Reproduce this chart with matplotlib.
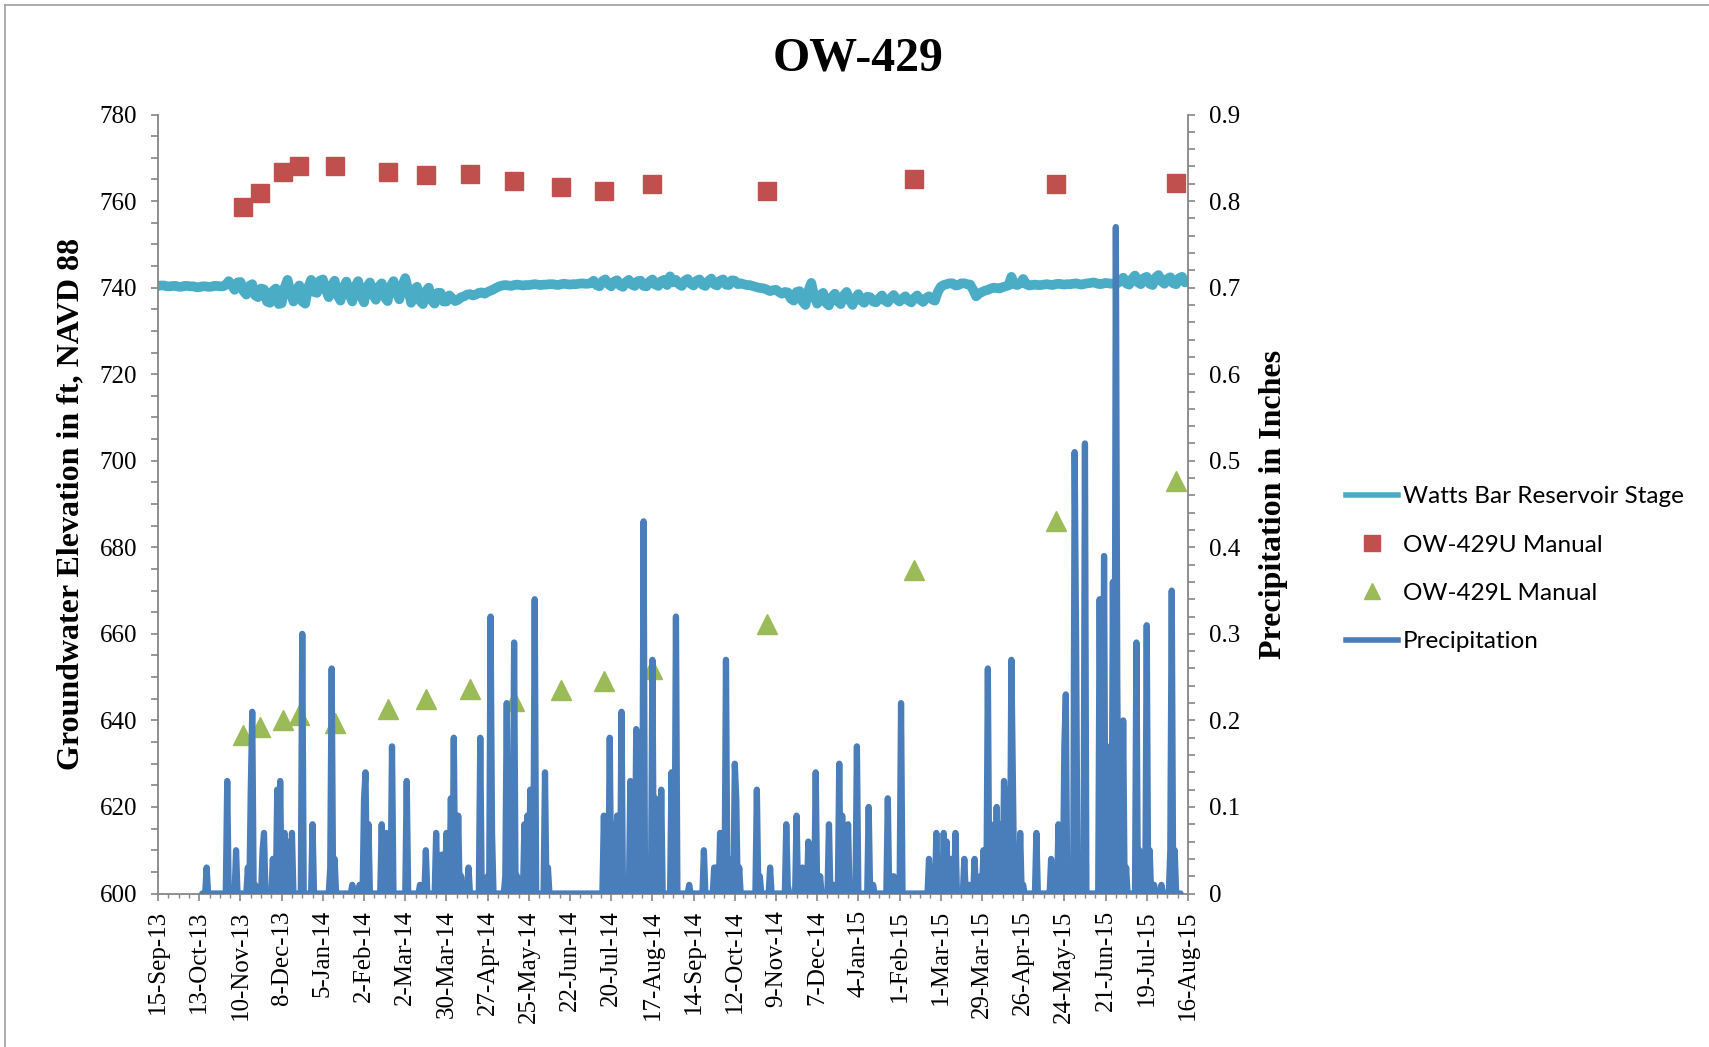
import numpy as np
import matplotlib
matplotlib.use("Agg")
import matplotlib.pyplot as plt
import matplotlib.dates as mdates
from matplotlib.ticker import MultipleLocator, FixedLocator
from matplotlib.lines import Line2D

# ---------------- data ----------------
start = np.datetime64("2013-09-15")
end = np.datetime64("2015-08-16")

# Watts Bar Reservoir Stage (ft), sampled every 2 days from 15-Sep-2013
stage_step_days = 2
stage_ft = [
    740.4, 740.5, 740.5, 740.3, 740.3, 740.4, 740.4, 740.2, 740.2, 740.4, 740.4, 740.3,
    740.3, 740.1, 740.1, 740.3, 740.3, 740.2, 740.2, 740.4, 740.4, 740.3, 740.3, 740.6,
    741.5, 740.6, 739.5, 741.2, 741.3, 739.2, 738.4, 740.4, 740.8, 738.2, 737.8, 739.8,
    739.6, 736.8, 736.5, 739.2, 739.8, 736.2, 736.4, 740.0, 741.8, 739.0,
    736.8, 739.5, 740.5, 736.8, 736.3, 740.0,
    741.8, 739.0, 738.8, 741.6, 741.9, 739.5, 737.8, 740.5, 741.6, 738.2,
    737.0, 740.0, 741.4, 738.5, 736.8, 740.3, 741.5, 738.0, 736.6, 740.2,
    741.2, 738.5, 737.2, 740.2, 741.0, 737.8, 736.9, 740.3, 741.5, 739.0, 737.3, 740.5,
    742.2, 739.5, 736.5, 739.5, 740.2, 737.0, 736.2, 739.2, 740.0, 737.0, 736.3, 738.8,
    738.8, 736.8, 736.8, 738.2, 737.5, 736.9, 737.2, 737.8,
    738.0, 738.4, 738.5, 738.2, 738.4, 738.8, 738.9, 738.6, 739.0, 739.3, 739.6, 740.0,
    740.3, 740.5, 740.6, 740.5, 740.4, 740.6, 740.7, 740.6, 740.5, 740.6, 740.6, 740.7,
    740.8, 740.7, 740.6, 740.7, 740.7, 740.8, 740.8, 740.7, 740.6, 740.8, 740.9, 740.8,
    740.7, 740.8, 740.8, 740.9, 741.0, 740.9, 740.9, 741.0,
    741.6, 740.6, 740.3, 741.5, 741.9, 740.8, 740.3, 741.4, 741.7, 740.5, 740.2, 741.3,
    741.8, 740.7, 740.4, 741.5, 741.6, 740.4, 740.3, 741.4, 741.9, 740.7, 740.4, 741.5,
    741.8, 740.6, 742.6, 741.2,
    741.8, 740.8, 740.4, 741.6, 742.0, 740.9, 740.5, 741.6, 741.9, 740.7, 740.4, 741.5,
    742.1, 740.8, 740.5, 741.6, 741.9, 740.7, 740.6, 741.7, 741.6, 740.8,
    741.0, 740.8, 740.6, 740.6, 740.4, 740.2, 740.0, 739.9, 739.8, 739.5, 739.2, 739.4,
    739.5, 739.0, 738.6, 739.0,
    738.9, 737.5, 737.0, 739.0, 739.2, 736.8, 736.0, 739.3, 741.1, 738.0,
    736.3, 738.2, 738.8, 736.5, 735.9, 737.8, 738.6, 736.8, 736.2, 738.2, 739.0, 737.2,
    736.0, 737.6, 738.5, 737.0, 736.5, 737.9,
    737.8, 736.8, 736.6, 737.5, 738.2, 737.0, 736.6, 737.6, 738.3, 737.3, 736.8, 737.5,
    738.0, 737.0, 736.6, 737.6, 738.2, 737.2, 736.7, 737.6, 738.0, 737.3, 737.0, 739.0,
    740.2, 740.6, 740.8, 741.0, 741.0, 740.5, 740.6, 741.0, 741.0, 740.8, 740.7, 739.5,
    738.0, 738.6, 739.0, 739.3, 739.5, 739.8, 740.0, 739.9, 739.8, 740.1, 740.3, 740.5,
    742.5, 740.8, 740.6, 741.0, 742.0, 740.8,
    740.5, 740.6, 740.7, 740.6, 740.6, 740.7, 740.8, 740.7, 740.6, 740.8, 740.9, 740.8,
    740.7, 740.8, 740.8, 740.9, 741.0, 740.8, 740.7, 740.9, 741.0, 741.1, 741.2, 741.0,
    740.8, 740.9, 741.1, 741.0, 740.9, 741.0, 741.0, 741.5,
    742.3, 741.0, 740.7, 742.0, 742.8, 741.2, 740.8, 742.2, 742.5, 740.9, 740.6, 742.3,
    742.9, 741.5, 740.9, 742.0, 742.4, 741.0, 740.8, 742.2, 742.5, 741.2,
]

# Manual measurements
manual_dates = ["2013-11-12", "2013-11-23", "2013-12-09", "2013-12-20", "2014-01-13",
                "2014-02-18", "2014-03-16", "2014-04-15", "2014-05-15", "2014-06-16",
                "2014-07-15", "2014-08-17", "2014-11-03", "2015-02-11", "2015-05-18",
                "2015-08-08"]
ow429u = [758.6, 761.9, 766.7, 768.0, 768.0, 766.7, 766.0, 766.3, 764.6, 763.2,
          762.3, 764.0, 762.3, 765.1, 764.0, 764.1]
ow429l = [636.6, 638.4, 640.1, 641.3, 639.3, 642.6, 645.0, 647.3, 644.5, 647.1,
          649.1, 651.8, 662.2, 674.8, 686.1, 695.4]

# Daily precipitation (inches): record runs from day 30 to day 695 after 15-Sep-2013;
# days not listed are zero.
precip_first_day = 30
precip_last_day = 695
precip_day = [33, 47, 53, 61, 63, 64, 66, 71, 72, 78, 81, 83, 86, 88, 91, 98, 105, 117,
              118, 120, 132, 137, 140, 141, 143, 152, 155, 159, 169, 178, 182, 189, 193,
              196, 199, 201, 204, 206, 211, 219, 224, 226, 227, 236, 237, 242, 244, 249,
              251, 253, 256, 263, 265, 303, 307, 309, 312, 315, 321, 325, 328, 330, 336,
              338, 342, 349, 352, 361, 371, 378, 379, 382, 386, 388, 392, 393, 395, 407,
              409, 416, 427, 428, 434, 438, 442, 447, 450, 456, 459, 463, 465, 469, 473,
              475, 483, 486, 496, 500, 505, 524, 526, 529, 534, 536, 539, 542, 548, 551,
              555, 559, 561, 564, 566, 570, 572, 575, 577, 580, 581, 586, 588, 597, 607,
              612, 614, 616, 617, 619, 623, 624, 630, 640, 641, 643, 647, 649, 651, 652,
              656, 658, 665, 667, 672, 674, 677, 682, 688, 689, 691]
precip_in = [0.03, 0.13, 0.05, 0.03, 0.12, 0.21, 0.01, 0.05, 0.07, 0.04, 0.12, 0.13, 0.07,
             0.06, 0.07, 0.30, 0.08, 0.03, 0.26, 0.04, 0.01, 0.01, 0.11, 0.14, 0.08, 0.08,
             0.07, 0.17, 0.13, 0.01, 0.05, 0.07, 0.045, 0.07, 0.11, 0.18, 0.09, 0.02,
             0.03, 0.18, 0.02, 0.32, 0.07, 0.02, 0.22, 0.29, 0.02, 0.08, 0.09, 0.12, 0.34,
             0.14, 0.03, 0.09, 0.18, 0.08, 0.09, 0.21, 0.13, 0.19, 0.07, 0.43, 0.27, 0.11,
             0.12, 0.14, 0.32, 0.01, 0.05, 0.03, 0.03, 0.07, 0.27, 0.04, 0.15, 0.11, 0.03,
             0.12, 0.02, 0.03, 0.08, 0.01, 0.09, 0.03, 0.06, 0.14, 0.02, 0.08, 0.01, 0.15,
             0.09, 0.08, 0.01, 0.17, 0.10, 0.01, 0.11, 0.02, 0.22, 0.04, 0.03, 0.07, 0.07,
             0.06, 0.04, 0.07, 0.04, 0.01, 0.04, 0.02, 0.05, 0.26, 0.08, 0.10, 0.08, 0.13,
             0.12, 0.27, 0.13, 0.07, 0.01, 0.07, 0.04, 0.08, 0.05, 0.17, 0.23, 0.02, 0.51,
             0.29, 0.52, 0.34, 0.06, 0.39, 0.17, 0.36, 0.77, 0.24, 0.20, 0.03, 0.29, 0.05,
             0.31, 0.05, 0.01, 0.01, 0.05, 0.35, 0.05]

# ---------------- build series ----------------
day = np.timedelta64(1, "D")
stage_dates = start + np.arange(len(stage_ft)) * stage_step_days * day
p_days = np.arange(precip_first_day, precip_last_day + 1)
p_vals = np.zeros(len(p_days))
for d, v in zip(precip_day, precip_in):
    p_vals[d - precip_first_day] = v
p_dates = start + p_days * day
m_dates = np.array(manual_dates, dtype="datetime64[D]")

# ---------------- styling ----------------
serif = ["Liberation Serif", "DejaVu Serif"]
gray = "#868686"
c_stage = "#4BACC6"
c_u = "#C0504D"
c_l = "#9BBB59"
c_p = "#4A7EBB"

fig = plt.figure(figsize=(17.09, 10.47), dpi=100)
ax = fig.add_axes([0.0925, 0.1466, 0.6026, 0.7440])
ax2 = ax.twinx()

ax.plot(stage_dates, stage_ft, color=c_stage, lw=7.0, solid_joinstyle="round",
        solid_capstyle="round", zorder=2)
ax.plot(m_dates, ow429u, ls="none", marker="s", ms=13, color=c_u, mec=c_u, zorder=3)
ax.plot(m_dates, ow429l, ls="none", marker="^", ms=14, color=c_l, mec=c_l, zorder=3)
ax2.plot(p_dates, p_vals, color=c_p, lw=4.5, solid_joinstyle="round",
         solid_capstyle="round")

ax.set_xlim(start, end)
ax.set_ylim(600, 780)
ax2.set_ylim(0, 0.9)

major = start + np.arange(0, 701, 28) * day
minor = start + np.arange(0, 701, 7) * day
ax.xaxis.set_major_locator(FixedLocator(mdates.date2num(major)))
ax.xaxis.set_minor_locator(FixedLocator(mdates.date2num(minor)))
ax.xaxis.set_major_formatter(mdates.DateFormatter("%-d-%b-%y"))
ax.yaxis.set_major_locator(MultipleLocator(20))
ax.yaxis.set_minor_locator(MultipleLocator(5))
ax2.yaxis.set_major_locator(MultipleLocator(0.1))
ax2.yaxis.set_minor_locator(MultipleLocator(0.02))
ax2.yaxis.set_major_formatter(matplotlib.ticker.FuncFormatter(
    lambda v, p: "0" if abs(v) < 1e-9 else f"{v:.1f}"))

for a in (ax, ax2):
    a.spines["top"].set_visible(False)
    for s in a.spines.values():
        s.set_color(gray)
        s.set_linewidth(1.3)
ax2.spines["left"].set_visible(False)
ax2.spines["bottom"].set_visible(False)
ax.spines["right"].set_visible(False)

ax.tick_params(axis="x", which="major", direction="out", length=5, width=1.2,
               color=gray, pad=7, labelrotation=90, labelsize=18)
ax.tick_params(axis="x", which="minor", direction="out", length=3, width=1.0, color=gray)
ax.tick_params(axis="y", which="both", direction="out", length=5, width=1.2,
               color=gray, pad=10, labelsize=18)
ax2.tick_params(axis="y", which="both", direction="out", length=5, width=1.2,
                color=gray, pad=10, labelsize=18)
for lab in ax.get_xticklabels() + ax.get_yticklabels() + ax2.get_yticklabels():
    lab.set_family(serif)

ax.set_ylabel("Groundwater Elevation in ft, NAVD 88", family=serif, fontsize=23,
              fontweight="bold")
ax.yaxis.set_label_coords(-0.071, 0.5)
ax2.set_ylabel("Precipitation in Inches", family=serif, fontsize=23,
               fontweight="bold", rotation=90)
ax2.yaxis.set_label_coords(1.069, 0.5)

fig.text(0.502, 0.944, "OW-429", family=serif, fontsize=34.5, fontweight="bold",
         ha="center", va="center")

handles = [
    Line2D([], [], color=c_stage, lw=4),
    Line2D([], [], ls="none", marker="s", ms=12, color=c_u),
    Line2D([], [], ls="none", marker="^", ms=12, color=c_l),
    Line2D([], [], color=c_p, lw=4),
]
labels = ["Watts Bar Reservoir Stage", "OW-429U Manual", "OW-429L Manual", "Precipitation"]
fig.legend(handles, labels, loc="center left", bbox_to_anchor=(0.7876, 0.4563),
           frameon=False, borderpad=0, borderaxespad=0, handlelength=2.15,
           handletextpad=0.18, labelspacing=1.12,
           prop={"family": ["Lato", "DejaVu Sans"], "size": 17.5})

# chart border (top and left edges visible)
fig.add_artist(Line2D([5 / 1709, 5 / 1709], [0, 1 - 5 / 1047], color="#A0A0A0", lw=1.2,
                      transform=fig.transFigure))
fig.add_artist(Line2D([5 / 1709, 1], [1 - 5 / 1047, 1 - 5 / 1047], color="#A0A0A0", lw=1.2,
                      transform=fig.transFigure))

fig.savefig("out.png", dpi=100)
